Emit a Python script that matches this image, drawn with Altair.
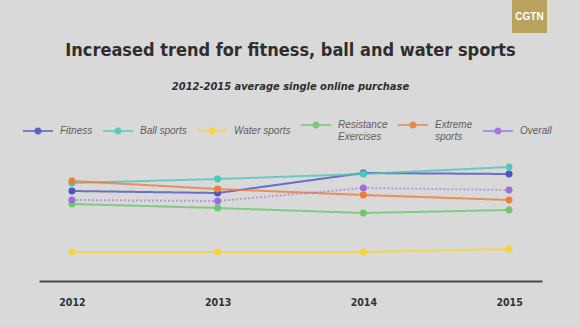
import altair as alt
import pandas as pd

years = ["2012", "2013", "2014", "2015"]
series = ["Fitness", "Ball sports", "Water sports", "Resistance Exercises", "Extreme sports", "Overall"]
fitness = [90, 88, 108, 107]
ball_sports = [98, 102, 107, 114]
water_sports = [29, 29, 29, 32]
resistance = [77, 73, 68, 71]
extreme = [100, 92, 86, 81]
overall = [81, 80, 93, 91]
colors = ["#4a54c2", "#4fc6b9", "#f6d33a", "#6cc66a", "#ee7c3a", "#9a6fd8"]

values = [fitness, ball_sports, water_sports, resistance, extreme, overall]
rows = []
for name, vals in zip(series, values):
    for yr, v in zip(years, vals):
        rows.append({"year": yr, "series": name, "value": v})
df = pd.DataFrame(rows)

TITLE_FONT = "DejaVu Sans Condensed"
sym = ("M-1,-0.05H1V0.05H-1Z"
       "M-0.24,0A0.24,0.24,0,1,1,0.24,0A0.24,0.24,0,1,1,-0.24,0Z")

color = alt.Color(
    "series:N",
    scale=alt.Scale(domain=series, range=colors),
    sort=series,
    legend=alt.Legend(
        title=None, orient="none", direction="horizontal",
        legendX=-16, legendY=-40,
        symbolType=sym, symbolSize=900, symbolStrokeWidth=0,
        symbolOpacity=0.9,
        labelFont="Liberation Sans", labelFontStyle="italic",
        labelFontSize=10, labelColor="#5e5e5e", labelOffset=7,
        columnPadding=10,
        labelExpr="datum.label == 'Resistance Exercises' ? ['Resistance','Exercises'] : datum.label == 'Extreme sports' ? ['Extreme','sports'] : datum.label",
    ),
)

x = alt.X("year:O", scale=alt.Scale(type="point", padding=0.226, domain=years),
          axis=alt.Axis(title=None, domainColor="#4a4a4a", domainWidth=2, ticks=False,
                        labelAngle=0, labelFont=TITLE_FONT, labelFontWeight="bold",
                        labelFontSize=10.5, labelColor="#333333", labelPadding=16, grid=False))
y = alt.Y("value:Q", scale=alt.Scale(domain=[0, 131], nice=False, zero=True), axis=None)

base = alt.Chart(df).encode(x=x, y=y, color=color)

lines = base.mark_line(strokeWidth=2).encode(
    opacity=alt.condition(alt.datum.series == "Overall", alt.value(0.6), alt.value(0.8)),
    strokeDash=alt.condition(alt.datum.series == "Overall", alt.value([2, 2]), alt.value([1, 0])),
    strokeWidth=alt.condition(alt.datum.series == "Overall", alt.value(1.3), alt.value(2)),
)
points = base.mark_point(filled=True, size=48, opacity=1)

logo_df = pd.DataFrame({"t": ["CGTN"]})
logo_box = alt.Chart(logo_df).mark_rect(color="#b9a25c").encode(
    x=alt.value(473), x2=alt.value(508), y=alt.value(-150), y2=alt.value(-117))
logo_txt = alt.Chart(logo_df).mark_text(color="white", font="Liberation Sans", fontWeight="bold",
                                        fontSize=10).encode(
    x=alt.value(490.5), y=alt.value(-133), text="t:N")

chart = alt.layer(lines, points, logo_box, logo_txt).properties(
    width=503, height=131,
    autosize=alt.AutoSizeParams(type="none"),
    padding={"left": 39, "top": 150, "right": 38, "bottom": 46},
    background="#d9d9d9",
    title=alt.Title(
        "Increased trend for fitness, ball and water sports",
        subtitle="2012-2015 average single online purchase",
        font=TITLE_FONT, fontSize=18, fontWeight="bold", color="#2e2e2e",
        subtitleFont=TITLE_FONT, subtitleFontSize=11, subtitleFontStyle="italic",
        subtitleFontWeight="bold", subtitleColor="#2e2e2e", subtitlePadding=21,
        anchor="middle", offset=-92,
    ),
).configure_view(stroke=None)

chart.save("out.html", embed_options={"renderer": "svg", "actions": False})
